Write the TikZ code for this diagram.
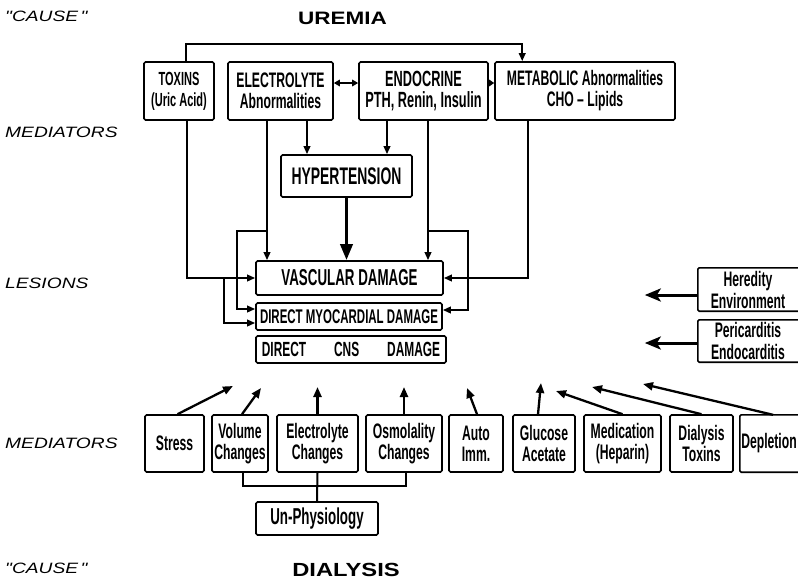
\documentclass[tikz,border=0pt]{standalone}
\usepackage{fontspec}
\usetikzlibrary{arrows.meta,calc}
\newfontfamily\lf[FakeStretch=0.58]{Liberation Sans}
\newfontfamily\lbl[FakeStretch=1.28]{Liberation Sans}
\newfontfamily\ttl[FakeStretch=1.25]{Liberation Sans}
\begin{document}
\begin{tikzpicture}[x=1pt,y=-1pt,
  fz/.style n args={2}{font=\lf\bfseries\fontsize{#1}{#2}\selectfont},
  box/.style={draw,line width=1.6pt,rounded corners=1.5pt,inner sep=0pt,align=center},
  txt/.style={inner sep=0pt,align=center},
  boxl/.style={line width=1.6pt,rounded corners=1.5pt},
  ln/.style={line width=2pt},
  arr/.style={line width=2pt,-{Triangle[length=8pt,width=6.5pt]}},
  uarr/.style={line width=2.3pt,-{Triangle[length=10pt,width=8pt]}},
  fat/.style={line width=3pt,-{Stealth[length=16pt,width=13pt,inset=4pt]}},
  sidelabel/.style={anchor=west,inner sep=0pt,font=\lbl\itshape\fontsize{15}{17}\selectfont},
  title/.style={inner sep=0pt,font=\ttl\bfseries\fontsize{18}{20}\selectfont}]
\useasboundingbox (0,0) rectangle (798,582);

% side labels and titles
\node[sidelabel] (c1) at (5,16) {"CAUSE\,"};
\node[sidelabel] (m1) at (5,132) {MEDIATORS};
\node[sidelabel] (l1) at (5,283) {LESIONS};
\node[sidelabel] (m2) at (5,443) {MEDIATORS};
\node[sidelabel] (c2) at (5,568) {"CAUSE\,"};
\node[title] (urem) at (342.5,18) {UREMIA};
\node[title,font=\ttl\bfseries\fontsize{19}{21}\selectfont] (dial) at (346,570) {DIALYSIS};

% top mediators
\node[box,fz={19}{21},minimum width=70pt,minimum height=58pt] (tox) at (179,91) {TOXINS\\(Uric Acid)};
\node[box,fz={21}{21},minimum width=105pt,minimum height=58pt] (ele) at (280.5,91) {ELECTROLYTE\\Abnormalities};
\node[box,fz={22}{21},minimum width=129pt,minimum height=58pt] (endo) at (423.5,91) {ENDOCRINE\\PTH, Renin, Insulin};
\node[box,fz={21}{21},minimum width=180pt,minimum height=58pt] (meta) at (585,91) {METABOLIC Abnormalities\\CHO \textendash{} Lipids};

\node[box,fz={24}{26},minimum width=131pt,minimum height=42pt] (hyp) at (346.5,176) {HYPERTENSION};

% lesions
\node[box,fz={23}{25},minimum width=187pt,minimum height=34pt] (vasc) at (349.5,278) {VASCULAR DAMAGE};
\node[box,fz={19.8}{22},minimum width=186pt,minimum height=27pt] (myo) at (349,316.5) {DIRECT MYOCARDIAL DAMAGE};
\node[box,fz={20.5}{22},minimum width=190pt,minimum height=27pt] (cns) at (351,349.5) {DIRECT\hspace{28pt}CNS\hspace{28pt}DAMAGE};

% right side
\node[txt,fz={21}{22},minimum width=100pt,minimum height=43pt] (her) at (748,289.5) {Heredity\\Environment};
\draw[boxl] ([xshift=4pt]her.north east) -- (her.north west) -- (her.south west) -- ([xshift=4pt]her.south east);
\node[txt,fz={21}{22},minimum width=100pt,minimum height=42pt] (peri) at (748,341) {Pericarditis\\Endocarditis};
\draw[boxl] ([xshift=4pt]peri.north east) -- (peri.north west) -- (peri.south west) -- ([xshift=4pt]peri.south east);
\coordinate (h1) at ($(her.west)+(-53,5.5)$);
\coordinate (p1) at ($(peri.west)+(-53,2)$);
\draw[fat] ([yshift=-5.5pt]her.west) -- (h1);
\draw[fat] ([yshift=-2pt]peri.west) -- (p1);

% top connectors
\draw[arr] ([xshift=7pt]tox.north) -- ++(0,-17) -| ([xshift=28pt]meta.north west);
\draw[line width=2pt,{Triangle[length=6pt,width=6.5pt]}-{Triangle[length=6pt,width=6.5pt]}] ([yshift=8pt]ele.east) -- ([yshift=8pt]endo.west);
\draw[line width=2pt,-{Triangle[length=5pt,width=6.5pt]}] ([yshift=8pt]endo.east) -- ([yshift=8pt]meta.west);
\draw[arr] ([xshift=26.5pt]ele.south) -- ([xshift=26.5pt]ele.south |- hyp.north);
\draw[arr] ([xshift=-13.5pt]ele.south) -- ([xshift=-13.5pt]ele.south |- vasc.north);
\draw[arr] ([xshift=-36.5pt]endo.south) -- ([xshift=-36.5pt]endo.south |- hyp.north);
\draw[arr] ([xshift=4.5pt]endo.south) -- ([xshift=4.5pt]endo.south |- vasc.north);
\draw[line width=3.5pt,-{Triangle[length=16pt,width=12pt]}] (hyp.south) -- (hyp.south |- vasc.north);
\draw[arr] ([xshift=8pt]tox.south) |- (vasc.west);
\coordinate (j1) at ($(vasc.west)+(-31,0)$);
\draw[arr] (j1) |- ([yshift=-6.5pt]myo.west);
\coordinate (j2) at ($([xshift=-13.5pt]ele.south)+(0,110)$);
\draw[arr] (j2) -- ++(-30,0) |- ([yshift=7.5pt]myo.west);
\coordinate (j3) at ($([xshift=4.5pt]endo.south)+(0,110)$);
\draw[arr] (j3) -- ++(40,0) |- ([yshift=6.5pt]myo.east);
\draw[arr] ([xshift=-57pt]meta.south) |- (vasc.east);

% bottom mediators
\node[box,fz={21}{21},minimum width=59pt,minimum height=57pt] (stress) at (174.5,443.5) {Stress};
\node[box,fz={21}{21},minimum width=56pt,minimum height=57pt] (vol) at (240,443.5) {Volume\\Changes};
\node[box,fz={21}{21},minimum width=81pt,minimum height=57pt] (elc) at (317.5,443.5) {Electrolyte\\Changes};
\node[box,fz={21}{21},minimum width=76pt,minimum height=57pt] (osm) at (404,443.5) {Osmolality\\Changes};
\node[box,fz={21}{21},minimum width=54pt,minimum height=57pt] (auto) at (476,443.5) {Auto\\Imm.};
\node[box,fz={21}{21},minimum width=62pt,minimum height=57pt] (glu) at (544,443.5) {Glucose\\Acetate};
\node[box,fz={21}{21},minimum width=77pt,minimum height=57pt] (med) at (622.5,443.5) {Medication\\(Heparin)};
\node[box,fz={21}{21},minimum width=63pt,minimum height=57pt] (dtox) at (701.5,443.5) {Dialysis\\Toxins};
\node[txt,fz={21}{21},minimum width=58pt,minimum height=57pt] (dep) at (769,443.5) {Depletion};
\draw[boxl] ([xshift=6pt]dep.north east) -- (dep.north west) -- (dep.south west) -- ([xshift=6pt]dep.south east);
\node[box,fz={23}{25},minimum width=122pt,minimum height=33pt] (unp) at (317,518.5) {Un-Physiology};

\coordinate (ub) at ($(elc.south)+(0,13)$);
\draw[ln] ([xshift=3pt]vol.south) |- (ub) -| ([xshift=2pt]osm.south);
\draw[ln] (elc.south) -- (unp.north);

% upward arrows
\coordinate (e1) at (233,386);
\coordinate (e2) at (261,388);
\coordinate (e3) at (317.5,387);
\coordinate (e4) at (404,387);
\coordinate (e5) at (467,388);
\coordinate (e6) at (541,383);
\coordinate (e7) at (556,391);
\coordinate (e8) at (592,387);
\coordinate (e9) at (643,384);
\draw[uarr] ([xshift=3pt]stress.north) -- (e1);
\draw[uarr] ([xshift=2pt]vol.north) -- (e2);
\draw[uarr] (elc.north) -- (e3);
\draw[uarr] (osm.north) -- (e4);
\draw[uarr] ([xshift=1pt]auto.north) -- (e5);
\draw[uarr] ([xshift=-6pt]glu.north) -- (e6);
\draw[uarr] (med.north) -- (e7);
\draw[uarr] (dtox.north) -- (e8);
\draw[uarr] ([xshift=4pt]dep.north) -- (e9);
\end{tikzpicture}
\end{document}
